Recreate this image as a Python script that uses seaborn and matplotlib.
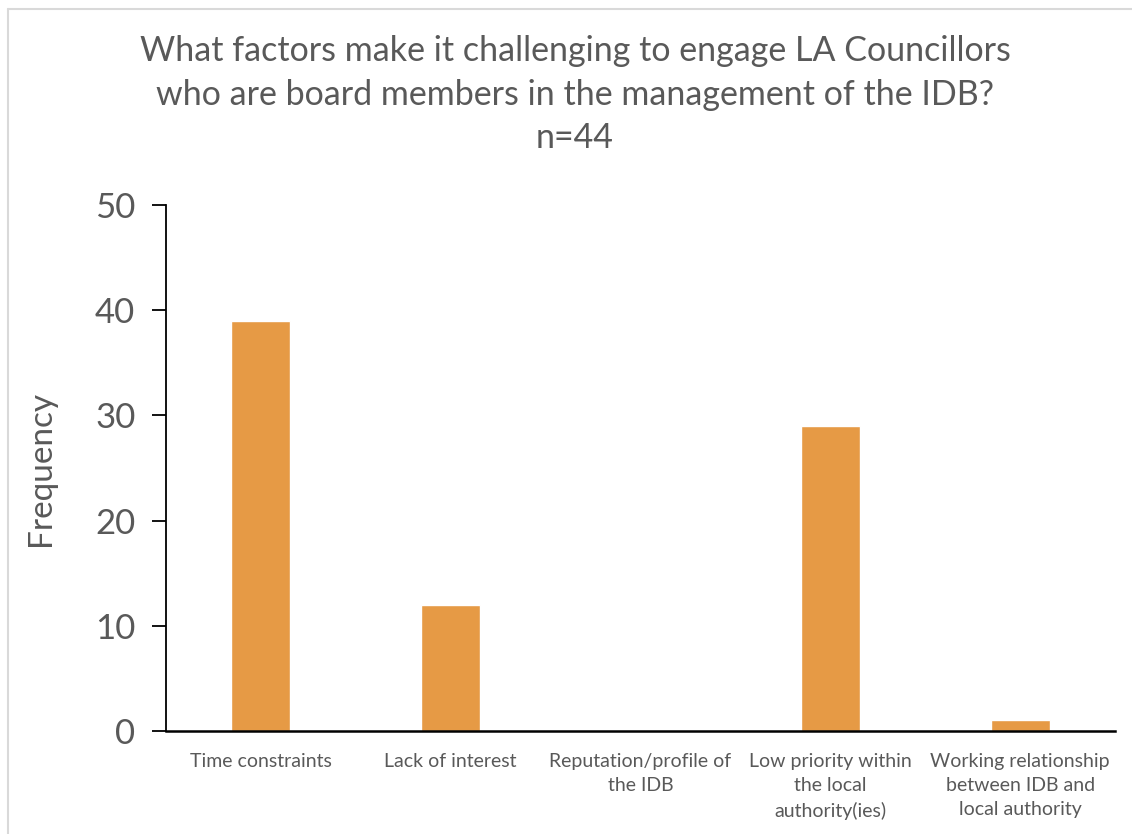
import matplotlib
matplotlib.use("Agg")
import matplotlib.pyplot as plt
from matplotlib.lines import Line2D
import seaborn as sns
import pandas as pd

categories = [
    "Time constraints",
    "Lack of interest",
    "Reputation/profile of\nthe IDB",
    "Low priority within\nthe local\nauthority(ies)",
    "Working relationship\nbetween IDB and\nlocal authority",
]
frequency = [39, 12, 0, 29, 1]
title_text = ("What factors make it challenging to engage LA Councillors\n"
              "who are board members in the management of the IDB?\nn=44")

sns.set_theme(style="white")
plt.rcParams["font.family"] = ["Lato", "DejaVu Sans"]

df = pd.DataFrame({"category": categories, "frequency": frequency})

W, H = 1132, 834
fig = plt.figure(figsize=(W / 100, H / 100), dpi=100)
ax = fig.add_axes([0.1466, 0.1235, 0.8384, 0.6305])

sns.barplot(data=df, x="category", y="frequency", color="#E69A45",
            width=0.31, saturation=1, ax=ax)

grey = "#595959"
ax.set_ylim(0, 50)
ax.set_xlim(-0.5, 4.5)
ax.set_yticks(range(0, 51, 10))
ax.set_xlabel("")
ax.set_ylabel("Frequency", fontsize=24, color=grey, labelpad=28)
ax.tick_params(axis="y", labelsize=25, labelcolor=grey, length=10,
               width=1.3, color="black", left=True, pad=12)
ax.tick_params(axis="x", labelsize=14, labelcolor=grey, length=0, pad=16)
for lbl in ax.get_xticklabels():
    lbl.set_linespacing(1.5)

for side in ["top", "right"]:
    ax.spines[side].set_visible(False)
ax.spines["left"].set_color("black")
ax.spines["left"].set_linewidth(1.3)
ax.spines["bottom"].set_color("black")
ax.spines["bottom"].set_linewidth(1.8)

fig.text(0.508, 0.958, title_text, ha="center", va="top", fontsize=24.5,
         color=grey, linespacing=1.45)

# light frame around the chart area
x0, y0 = 7.5 / W, 1 - 8.5 / H
fig.add_artist(Line2D([x0, 1], [y0, y0], transform=fig.transFigure,
                      color="#D9D9D9", lw=1.5))
fig.add_artist(Line2D([x0, x0], [0, y0], transform=fig.transFigure,
                      color="#D9D9D9", lw=1.5))

fig.savefig("out.png", dpi=100)
